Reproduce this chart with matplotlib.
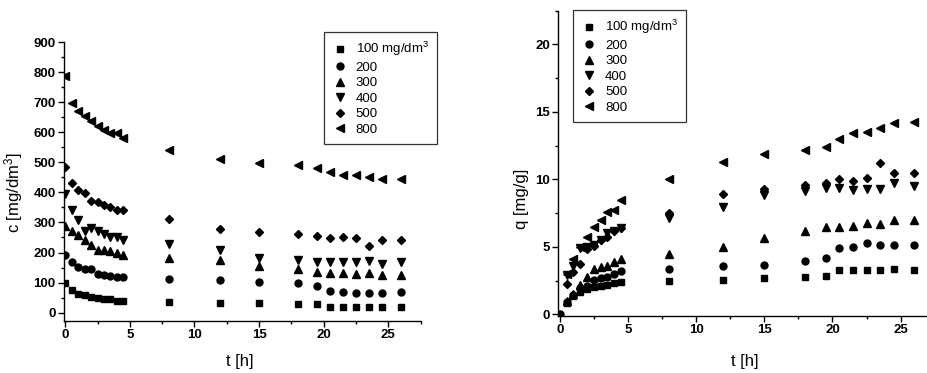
import matplotlib
matplotlib.use("Agg")
import matplotlib.pyplot as plt
from matplotlib.ticker import MultipleLocator

plt.rcParams['font.family'] = ['Liberation Sans', 'DejaVu Sans']
plt.rcParams['mathtext.default'] = 'regular'

# czas [h]
t = [0, 0.5, 1, 1.5, 2, 2.5, 3, 3.5, 4, 4.5, 8, 12, 15, 18, 19.5, 20.5, 21.5, 22.5, 23.5, 24.5, 26]
t_q = [0.5, 1, 1.5, 2, 2.5, 3, 3.5, 4, 4.5, 8, 12, 15, 18, 19.5, 20.5, 21.5, 22.5, 23.5, 24.5, 26]

labels = ['100 mg/dm$^3$', '200', '300', '400', '500', '800']
markers = ['s', 'o', '^', 'v', 'D', '<']
msizes = [4.5, 5, 5.5, 5.5, 4.5, 5.5]

# stezenie c [mg/dm3]
c100 = [100, 76, 63, 58, 53, 48, 46, 46, 40, 38, 36, 33, 31, 29, 28, 18, 18, 19, 17, 17, 17]
c200 = [191, 170, 153, 144, 144, 129, 126, 123, 120, 118, 111, 107, 103, 98, 90, 72, 69, 64, 66, 66, 67]
c300 = [287, 270, 258, 240, 226, 210, 210, 206, 200, 191, 183, 174, 156, 144, 134, 133, 133, 128, 131, 124, 124]
c400 = [394, 342, 307, 272, 281, 273, 261, 250, 253, 243, 229, 207, 183, 176, 169, 169, 170, 170, 171, 163, 169]
c500 = [483, 431, 409, 397, 370, 368, 358, 351, 343, 340, 312, 277, 268, 261, 254, 248, 251, 247, 221, 242, 242]
c800 = [786, 697, 671, 653, 638, 620, 609, 598, 598, 581, 541, 512, 498, 492, 480, 467, 458, 459, 453, 444, 444]

# pojemnosc sorpcyjna q [mg/g]
q100 = [0.8, 1.36, 1.68, 1.86, 2.0, 2.1, 2.18, 2.3, 2.38, 2.48, 2.55, 2.67, 2.77, 2.85, 3.27, 3.27, 3.27, 3.27, 3.39, 3.27]
q200 = [0.9, 1.45, 1.93, 2.1, 2.55, 2.67, 2.77, 2.97, 3.17, 3.39, 3.56, 3.66, 3.96, 4.16, 4.88, 4.98, 5.25, 5.15, 5.15, 5.15]
q300 = [1.0, 1.5, 2.18, 2.75, 3.34, 3.5, 3.6, 3.9, 4.1, 4.48, 4.98, 5.62, 6.14, 6.44, 6.44, 6.56, 6.73, 6.68, 6.96, 6.96]
q400 = [2.9, 3.6, 4.9, 5.0, 5.1, 5.5, 6.0, 6.2, 6.4, 7.13, 7.95, 8.86, 9.1, 9.36, 9.36, 9.23, 9.3, 9.3, 9.73, 9.53]
q500 = [2.25, 3.14, 3.74, 4.83, 5.07, 5.47, 5.72, 6.14, 6.36, 7.5, 8.91, 9.31, 9.6, 9.7, 10.0, 9.9, 10.1, 11.19, 10.5, 10.5]
q800 = [3.0, 4.08, 5.02, 5.69, 6.46, 6.98, 7.57, 7.7, 8.49, 10.05, 11.29, 11.88, 12.18, 12.43, 13.0, 13.42, 13.49, 13.84, 14.18, 14.28]

c_all = [c100, c200, c300, c400, c500, c800]
q_all = [q100, q200, q300, q400, q500, q800]

fig = plt.figure(figsize=(9.27, 3.73), dpi=100)
ax1 = fig.add_axes([0.0690, 0.1394, 0.3848, 0.749])
ax2 = fig.add_axes([0.6023, 0.1528, 0.3987, 0.8185])


def styl(ax):
    for s in ['top', 'right']:
        ax.spines[s].set_visible(False)
    for s in ['left', 'bottom']:
        ax.spines[s].set_linewidth(1.0)
    ax.tick_params(which='major', direction='out', length=4, width=1, labelsize=9.5, pad=2)
    ax.tick_params(which='minor', direction='out', length=2.5, width=1)


def legenda(ax, x, y):
    leg = ax.legend(loc='upper left', bbox_to_anchor=(x, y), bbox_transform=fig.transFigure,
                    fontsize=9.5, frameon=True, fancybox=False,
                    borderaxespad=0, labelspacing=0.25, handletextpad=0.6, handlelength=1.2,
                    borderpad=0.6)
    leg.get_frame().set_edgecolor('black')
    leg.get_frame().set_linewidth(0.9)


# lewy wykres
for y, lab, m, ms in zip(c_all, labels, markers, msizes):
    ax1.plot(t, y, linestyle='none', marker=m, markersize=ms, color='black', label=lab)
ax1.set_xlim(-0.1, 27.5)
ax1.set_ylim(-28, 902)
ax1.xaxis.set_major_locator(MultipleLocator(5))
ax1.xaxis.set_minor_locator(MultipleLocator(2.5))
ax1.yaxis.set_major_locator(MultipleLocator(100))
ax1.yaxis.set_minor_locator(MultipleLocator(50))
styl(ax1)
ax1.set_xlabel('t [h]', fontsize=12)
ax1.set_ylabel('c [mg/dm$^3$]', fontsize=12)
ax1.xaxis.set_label_coords(0.493, -0.118)
ax1.yaxis.set_label_coords(-0.109, 0.46)
legenda(ax1, 0.3495, 0.914)

# prawy wykres
ax2.plot([0], [0], linestyle='none', marker='o', markersize=5, color='black')
for y, lab, m, ms in zip(q_all, labels, markers, msizes):
    ax2.plot(t_q, y, linestyle='none', marker=m, markersize=ms, color='black', label=lab)
ax2.set_xlim(-0.1, 27)
ax2.set_ylim(-0.13, 22.5)
ax2.xaxis.set_major_locator(MultipleLocator(5))
ax2.xaxis.set_minor_locator(MultipleLocator(2.5))
ax2.yaxis.set_major_locator(MultipleLocator(5))
ax2.yaxis.set_minor_locator(MultipleLocator(2.5))
styl(ax2)
ax2.set_xlabel('t [h]', fontsize=12)
ax2.set_ylabel('q [mg/g]', fontsize=12)
ax2.xaxis.set_label_coords(0.505, -0.124)
ax2.yaxis.set_label_coords(-0.079, 0.383)
legenda(ax2, 0.6185, 0.973)

# pogrubione liczby na osiach
fig.canvas.draw()
for ax in [ax1, ax2]:
    for lab in ax.get_xticklabels() + ax.get_yticklabels():
        lab.set_fontweight('bold')

fig.savefig('out.png', dpi=100)
